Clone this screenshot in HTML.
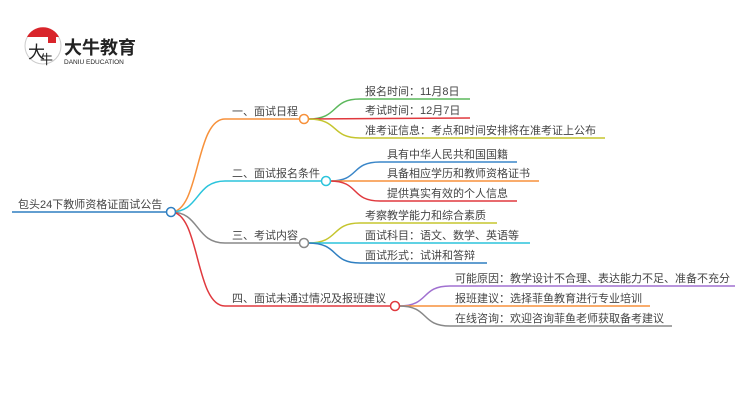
<!DOCTYPE html>
<html><head><meta charset="utf-8"><style>
body{margin:0;background:#fff;width:750px;height:410px;overflow:hidden}
text{font-family:"Liberation Sans","Noto Sans CJK SC",sans-serif;font-size:11px;fill:#444}
</style></head><body>
<svg width="750" height="410" viewBox="0 0 750 410" xmlns="http://www.w3.org/2000/svg">
<!-- logo -->
<circle cx="43" cy="46" r="18" fill="#fff" stroke="#ccc" stroke-width="1"/>
<path d="M27 37 A18 18 0 0 1 59 37 Z" fill="#d9252b"/>
<rect x="48" y="34" width="8" height="9" fill="#d9252b"/>
<text x="28" y="58" style="font-size:17px;fill:#222">大</text>
<text x="40" y="64" style="font-size:13px;fill:#222">牛</text>
<text x="64" y="54" style="font-size:18px;font-weight:bold;fill:#222">大牛教育</text>
<text x="64" y="64" style="font-size:6.5px;fill:#222">DANIU EDUCATION</text>

<g fill="none" stroke-width="1.5">
<line x1="12" y1="212" x2="167" y2="212" stroke="#2f7fc1"/>
<path d="M171 212 C200 212,195 119,225 119 L300 119" stroke="#f7913b"/>
<path d="M171 212 C200 212,195 181,225 181 L322 181" stroke="#2bc4dc"/>
<path d="M171 212 C200 212,195 243,225 243 L300 243" stroke="#888"/>
<path d="M171 212 C200 212,195 306,225 306 L391 306" stroke="#e0393e"/>
<path d="M308 119 C340 119,330 99,360 99 L470 99" stroke="#5cb85c"/>
<path d="M308 119 L470 118" stroke="#e0393e"/>
<path d="M308 119 C340 119,330 138,360 138 L605 138" stroke="#c5c52e"/>
<path d="M330 181 C360 181,350 162,380 162 L517 162" stroke="#3a86c8"/>
<path d="M330 181 L539 181" stroke="#f7913b"/>
<path d="M330 181 C360 181,350 201,380 201 L517 201" stroke="#e0393e"/>
<path d="M308 243 C340 243,330 223,360 223 L497 223" stroke="#c5c52e"/>
<path d="M308 243 L530 243" stroke="#2bc4dc"/>
<path d="M308 243 C340 243,330 263,360 263 L487 263" stroke="#2f7fc1"/>
<path d="M399 306 C430 306,420 286,450 286 L735 286" stroke="#a070d0"/>
<path d="M399 306 L650 306" stroke="#f7913b"/>
<path d="M399 306 C430 306,420 326,450 326 L672 326" stroke="#888"/>
</g>
<g fill="#fff" stroke-width="1.5">
<circle cx="171" cy="212" r="4.5" stroke="#2f7fc1"/>
<circle cx="304" cy="119" r="4.5" stroke="#f7913b"/>
<circle cx="326" cy="181" r="4.5" stroke="#2bc4dc"/>
<circle cx="304" cy="243" r="4.5" stroke="#888"/>
<circle cx="395" cy="306" r="4.5" stroke="#e0393e"/>
</g>
<text x="18" y="208">包头24下教师资格证面试公告</text>
<text x="232" y="115">一、面试日程</text>
<text x="232" y="177">二、面试报名条件</text>
<text x="232" y="239">三、考试内容</text>
<text x="232" y="302">四、面试未通过情况及报班建议</text>
<text x="365" y="95">报名时间：11月8日</text>
<text x="365" y="114">考试时间：12月7日</text>
<text x="365" y="134">准考证信息：考点和时间安排将在准考证上公布</text>
<text x="387" y="158">具有中华人民共和国国籍</text>
<text x="387" y="177">具备相应学历和教师资格证书</text>
<text x="387" y="197">提供真实有效的个人信息</text>
<text x="365" y="219">考察教学能力和综合素质</text>
<text x="365" y="239">面试科目：语文、数学、英语等</text>
<text x="365" y="259">面试形式：试讲和答辩</text>
<text x="455" y="282">可能原因：教学设计不合理、表达能力不足、准备不充分</text>
<text x="455" y="302">报班建议：选择菲鱼教育进行专业培训</text>
<text x="455" y="322">在线咨询：欢迎咨询菲鱼老师获取备考建议</text>
</svg>
</body></html>
